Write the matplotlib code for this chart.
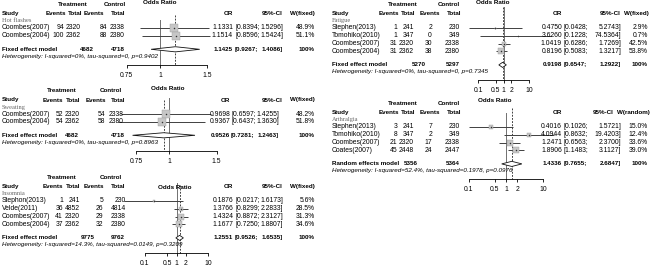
import matplotlib
matplotlib.use('Agg')
import matplotlib.pyplot as plt
import matplotlib.transforms as mtransforms
from matplotlib.ticker import NullLocator
import numpy as np

plt.rcParams['font.family'] = ['Liberation Sans', 'DejaVu Sans']

# ---------------- data ----------------
hf_studies = ['Coombes(2007)', 'Coombes(2004)']
hf_ev_t = [94, 100]
hf_n_t = [2320, 2362]
hf_ev_c = [84, 88]
hf_n_c = [2338, 2380]
hf_or = [1.1331, 1.1514]
hf_lo = [0.8394, 0.8596]
hf_hi = [1.5296, 1.5424]
hf_w = [48.9, 51.1]
hf_pool = [1.1425, 0.9267, 1.4086]
hf_tot = [4682, 4718]
hf_het = 'Heterogeneity: I-squared=0%, tau-squared=0, p=0.9402'

sw_studies = ['Coombes(2007)', 'Coombes(2004)']
sw_ev_t = [52, 54]
sw_n_t = [2320, 2362]
sw_ev_c = [54, 58]
sw_n_c = [2338, 2380]
sw_or = [0.9698, 0.9367]
sw_lo = [0.6597, 0.6437]
sw_hi = [1.4255, 1.3630]
sw_w = [48.2, 51.8]
sw_pool = [0.9526, 0.7281, 1.2463]
sw_tot = [4682, 4718]
sw_het = 'Heterogeneity: I-squared=0%, tau-squared=0, p=0.8963'

in_studies = ['Stephon(2013)', 'Velde(2011)', 'Coombes(2007)', 'Coombes(2004)']
in_ev_t = [1, 36, 41, 37]
in_n_t = [241, 4852, 2320, 2362]
in_ev_c = [5, 26, 29, 32]
in_n_c = [230, 4814, 2338, 2380]
in_or = [0.1876, 1.3766, 1.4324, 1.1677]
in_lo = [0.0217, 0.8299, 0.8872, 0.7250]
in_hi = [1.6173, 2.2833, 2.3127, 1.8807]
in_w = [5.6, 28.5, 31.3, 34.6]
in_pool = [1.2551, 0.9526, 1.6535]
in_tot = [9775, 9762]
in_het = 'Heterogeneity: I-squared=14.3%, tau-squared=0.0149, p=0.3209'

fa_studies = ['Stephen(2013)', 'Tomohiko(2010)', 'Coombes(2007)', 'Coombes(2004)']
fa_ev_t = [1, 1, 31, 31]
fa_n_t = [241, 347, 2320, 2362]
fa_ev_c = [2, 0, 30, 38]
fa_n_c = [230, 349, 2338, 2380]
fa_or = [0.4750, 3.6260, 1.0419, 0.8196]
fa_lo = [0.0428, 0.1228, 0.6286, 0.5083]
fa_hi = [5.2743, 74.5364, 1.7269, 1.3217]
fa_w = [2.9, 0.7, 42.5, 53.8]
fa_pool = [0.9198, 0.6547, 1.2922]
fa_tot = [5270, 5297]
fa_het = 'Heterogeneity: I-squared=0%, tau-squared=0, p=0.7345'

ar_studies = ['Stephen(2013)', 'Tomohiko(2010)', 'Coombes(2007)', 'Coates(2007)']
ar_ev_t = [3, 8, 21, 45]
ar_n_t = [241, 347, 2320, 2448]
ar_ev_c = [7, 2, 17, 24]
ar_n_c = [230, 349, 2338, 2447]
ar_or = [0.4016, 4.0944, 1.2471, 1.8906]
ar_lo = [0.1026, 0.8632, 0.6563, 1.1483]
ar_hi = [1.5721, 19.4203, 2.3700, 3.1127]
ar_w = [15.0, 12.4, 33.6, 39.0]
ar_pool = [1.4336, 0.7655, 2.6847]
ar_tot = [5356, 5364]
ar_het = 'Heterogeneity: I-squared=52.4%, tau-squared=0.1978, p=0.0976'

ticks_narrow = [0.75, 1, 1.5]
ticklabels_narrow = ['0.75', '1', '1.5']
ticks_wide = [0.1, 0.5, 1, 2, 10]
ticklabels_wide = ['0.1', '0.5', '1', '2', '10']

# ---------------- figure ----------------
W, H = 650, 269
fig = plt.figure(figsize=(6.5, 2.69), dpi=100)
PX = mtransforms.Affine2D().scale(1.0 / W, -1.0 / H).translate(0, 1) + fig.transFigure

FS = 4.9
FSB = 4.5
DY = 7.8


def draw_panel(d, L):
    n = len(d['studies'])
    y0 = L['y_study'] + 14
    rows = np.arange(n)
    pool_row = n - 1 + 13.5 / DY
    het_row = pool_row + 7.0 / DY
    axis_row = het_row + 8.5 / DY
    ytop_px = L['y_study'] - 26
    top_row = (ytop_px - y0) / DY
    yaxis_px = y0 + axis_row * DY
    xa, xb = L['axis_px']
    ax = fig.add_axes([xa / W, 1 - yaxis_px / H, (xb - xa) / W, (yaxis_px - ytop_px) / H])
    ax.set_xscale('log')
    ax.set_xlim(d['ticks'][0], d['ticks'][-1])
    ax.set_ylim(axis_row, top_row)
    ax.patch.set_alpha(0)
    for s in ['top', 'left', 'right']:
        ax.spines[s].set_visible(False)
    ax.spines['bottom'].set_linewidth(0.6)
    ax.set_xticks(d['ticks'])
    ax.set_xticklabels(d['ticklabels'])
    ax.xaxis.set_minor_locator(NullLocator())
    ax.set_yticks([])
    ax.tick_params(axis='x', length=2.5, width=0.6, labelsize=FS, pad=2.5)

    # reference lines
    ax.plot([1, 1], [L['solid_top'] / DY, axis_row], color='#707070', lw=0.7, clip_on=False, zorder=1)
    pool = d['pool']
    ax.plot([pool[0], pool[0]], [L['dash_top'] / DY, axis_row], color='#222222', lw=0.6,
            ls=(0, (2.2, 1.6)), clip_on=False, zorder=1)

    # study CIs and squares
    wmax = max(d['w'])
    for i in range(n):
        ax.plot([d['lo'][i], d['hi'][i]], [rows[i], rows[i]], color='#404040', lw=0.7,
                clip_on=False, zorder=2, solid_capstyle='butt')
        side = L['sq'] * np.sqrt(d['w'][i] / wmax) * 0.72
        ax.plot([d['or'][i]], [rows[i]], marker='s', ms=side, mfc='#c6c6c6', mec='#9c9c9c',
                mew=0.3, ls='none', clip_on=False, zorder=3)
        ax.plot([d['or'][i]], [rows[i]], marker='o', ms=1.1, mfc='#333333', mec='none',
                ls='none', clip_on=False, zorder=4)

    # diamond
    hh = 0.33
    ax.fill([pool[1], pool[0], pool[2], pool[0]], [pool_row, pool_row - hh, pool_row, pool_row + hh],
            facecolor='white', edgecolor='#111111', lw=0.6, clip_on=False, zorder=3)

    bt = mtransforms.blended_transform_factory(PX, ax.transData)

    def T(x, r, s, ha='left', weight='normal', size=FS, style='normal', family=None, color='black'):
        kw = {}
        if family is not None:
            kw['family'] = family
        ax.text(x, r, s, transform=bt, ha=ha, va='center', fontweight=weight, fontsize=size,
                fontstyle=style, color=color, **kw)

    sr = -14 / DY
    # header
    T(L['trt_c'], sr - 9 / DY, 'Treatment', ha='center', weight='bold', size=FSB)
    T(L['ctl_c'], sr - 9 / DY, 'Control', ha='center', weight='bold', size=FSB)
    T(L['title'][0], (L['title'][1] - y0) / DY, 'Odds Ratio', ha='center', weight='bold', size=FSB)
    x0 = L['x0']
    T(x0 + 2, sr, 'Study', weight='bold', size=FSB)
    for lab, xr in zip(['Events', 'Total', 'Events', 'Total'], L['hdr']):
        T(xr, sr, lab, ha='right', weight='bold', size=FSB)
    T(L['hdr_or'], sr, 'OR', ha='right', weight='bold', size=FSB)
    T(L['hdr_ci'], sr, '95%-CI', ha='right', weight='bold', size=FSB)
    T(L['hdr_w'], sr, d['wlabel'], ha='right', weight='bold', size=FSB)
    T(x0 + 2, -7 / DY, d['group'], family=['Liberation Serif', 'DejaVu Serif'], size=4.6, color='#666666')

    for i in range(n):
        T(x0 + 2, rows[i], d['studies'][i])
        T(L['cols'][0], rows[i], str(d['ev_t'][i]), ha='right')
        T(L['cols'][1], rows[i], str(d['n_t'][i]), ha='right')
        T(L['cols'][2], rows[i], str(d['ev_c'][i]), ha='right')
        T(L['cols'][3], rows[i], str(d['n_c'][i]), ha='right')
        T(L['or_r'], rows[i], f"{d['or'][i]:.4f}", ha='right')
        T(L['ci_l'], rows[i], f"[{d['lo'][i]:.4f};", ha='left')
        T(L['ci_r'], rows[i], f"{d['hi'][i]:.4f}]", ha='right')
        T(L['w_r'], rows[i], f"{d['w'][i]:.1f}%", ha='right')

    T(x0 + 2, pool_row, d['model'], weight='bold', size=FSB)
    T(L['pool_nt'], pool_row, str(d['tot'][0]), ha='right', weight='bold', size=FSB)
    T(L['pool_nc'], pool_row, str(d['tot'][1]), ha='right', weight='bold', size=FSB)
    T(L['or_r'], pool_row, f"{pool[0]:.4f}", ha='right', weight='bold', size=FSB)
    T(L['ci_l'], pool_row, f"[{pool[1]:.4f};", ha='left', weight='bold', size=FSB)
    T(L['ci_r'], pool_row, f"{pool[2]:.4f}]", ha='right', weight='bold', size=FSB)
    T(L['w_r'], pool_row, '100%', ha='right', weight='bold', size=FSB)
    T(x0 + 2, het_row, d['het'], style='italic', size=4.5)


def pack(studies, ev_t, n_t, ev_c, n_c, o, lo, hi, w, pool, tot, het, group, ticks, tlabels,
         model='Fixed effect model', wlabel='W(fixed)'):
    return dict(studies=studies, ev_t=ev_t, n_t=n_t, ev_c=ev_c, n_c=n_c, **{'or': o}, lo=lo, hi=hi,
                w=w, pool=pool, tot=tot, het=het, group=group, ticks=ticks, ticklabels=tlabels,
                model=model, wlabel=wlabel)


panels = [
    (pack(hf_studies, hf_ev_t, hf_n_t, hf_ev_c, hf_n_c, hf_or, hf_lo, hf_hi, hf_w, hf_pool, hf_tot,
          hf_het, 'Hot flashes', ticks_narrow, ticklabels_narrow),
     dict(x0=0, y_study=14, axis_px=(126.5, 207), solid_top=-8, dash_top=-13, sq=7.5,
          trt_c=73, ctl_c=115, title=(160, 3), hdr=[66, 82, 104, 125], cols=[64, 81, 107, 125],
          pool_nt=94, pool_nc=125, or_r=233, ci_l=235, ci_r=283, w_r=315,
          hdr_or=233, hdr_ci=283, hdr_w=315)),
    (pack(sw_studies, sw_ev_t, sw_n_t, sw_ev_c, sw_n_c, sw_or, sw_lo, sw_hi, sw_w, sw_pool, sw_tot,
          sw_het, 'Sweating', ticks_narrow, ticklabels_narrow),
     dict(x0=0, y_study=100, axis_px=(136, 216.5), solid_top=-16, dash_top=-14, sq=7.5,
          trt_c=62, ctl_c=111, title=(168, 88), hdr=[63, 80, 106, 125], cols=[63, 80, 105, 124],
          pool_nt=79, pool_nc=125, or_r=230, ci_l=231, ci_r=279, w_r=315,
          hdr_or=230, hdr_ci=283, hdr_w=315)),
    (pack(in_studies, in_ev_t, in_n_t, in_ev_c, in_n_c, in_or, in_lo, in_hi, in_w, in_pool, in_tot,
          in_het, 'Insomnia', ticks_wide, ticklabels_wide),
     dict(x0=0, y_study=187, axis_px=(145, 208), solid_top=-18, dash_top=-16, sq=5.5,
          trt_c=62, ctl_c=111, title=(175, 188), hdr=[63, 80, 104, 125], cols=[63, 80, 103, 126],
          pool_nt=95, pool_nc=125, or_r=233, ci_l=235, ci_r=283, w_r=315,
          hdr_or=233, hdr_ci=283, hdr_w=315)),
    (pack(fa_studies, fa_ev_t, fa_n_t, fa_ev_c, fa_n_c, fa_or, fa_lo, fa_hi, fa_w, fa_pool, fa_tot,
          fa_het, 'Fatigue', ticks_wide, ticklabels_wide),
     dict(x0=330, y_study=14, axis_px=(478, 529), solid_top=-21, dash_top=-21, sq=5.5,
          trt_c=403, ctl_c=449, title=(493, 3), hdr=[399, 415, 440, 461], cols=[397, 414, 432, 460],
          pool_nt=426, pool_nc=460, or_r=562, ci_l=564, ci_r=621, w_r=648,
          hdr_or=562, hdr_ci=621, hdr_w=649)),
    (pack(ar_studies, ar_ev_t, ar_n_t, ar_ev_c, ar_n_c, ar_or, ar_lo, ar_hi, ar_w, ar_pool, ar_tot,
          ar_het, 'Arthralgia', ticks_wide, ticklabels_wide,
          model='Random effects model', wlabel='W(random)'),
     dict(x0=330, y_study=113, axis_px=(469, 543), solid_top=-14, dash_top=-19, sq=6.5,
          trt_c=403, ctl_c=449, title=(495, 101), hdr=[399, 415, 440, 461], cols=[397, 414, 432, 460],
          pool_nt=418, pool_nc=460, or_r=562, ci_l=564, ci_r=621, w_r=648,
          hdr_or=562, hdr_ci=614, hdr_w=650)),
]

for d, L in panels:
    draw_panel(d, L)

fig.savefig('out.png', dpi=100)
